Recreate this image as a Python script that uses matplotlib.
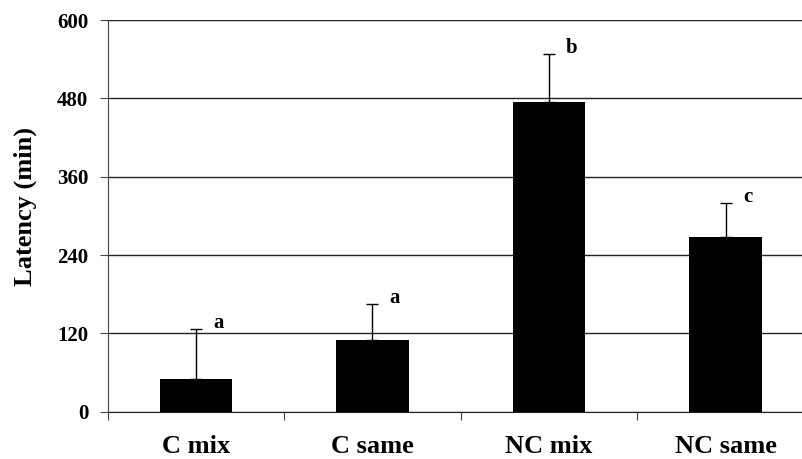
import matplotlib
matplotlib.use("Agg")
import matplotlib.pyplot as plt
import numpy as np

# values
groups = ["C mix", "C same", "NC mix", "NC same"]
latency = [50, 110, 474, 267]
sem = [76, 55, 74, 52]
letters = ["a", "a", "b", "c"]
yticks = [0, 120, 240, 360, 480, 600]

plt.rcParams["font.family"] = ["Liberation Serif", "DejaVu Serif"]
plt.rcParams["font.weight"] = "bold"

fig = plt.figure(figsize=(8.02, 4.59), dpi=100)
ax = fig.add_axes([0.1343, 0.103, 0.8804, 0.8534])

x = np.arange(len(groups))
ax.bar(x, latency, width=0.41, color="black", zorder=3)
ax.errorbar(x, latency, yerr=[np.zeros(len(sem)), sem], fmt="none",
            ecolor="black", elinewidth=1, capsize=4, capthick=1, zorder=4)

# significance letters, to the right of each error cap
for xi, m, e, lab in zip(x, latency, sem, letters):
    ax.annotate(lab, (xi, m + e), xytext=(16, 1), textcoords="offset points",
                ha="center", va="baseline", fontsize=15, fontweight="bold")

ax.set_xlim(-0.5, len(groups) - 0.5)
ax.set_ylim(0, 600)
ax.set_yticks(yticks)
ax.set_yticklabels([str(t) for t in yticks], fontsize=15, fontweight="bold")
ax.yaxis.grid(True, color="#222222", linewidth=1)
ax.set_axisbelow(True)

# tick marks on category boundaries, labels at centres
ax.set_xticks(np.arange(-0.5, len(groups), 1.0))
ax.set_xticklabels([])
ax.set_xticks(x, minor=True)
ax.set_xticklabels(groups, minor=True, fontsize=19, fontweight="bold")
ax.tick_params(axis="x", which="minor", length=0, pad=17)
ax.tick_params(axis="x", which="major", length=6, color="#444444")
ax.tick_params(axis="y", length=6, pad=8, color="#444444")

ax.set_ylabel("Latency (min)", fontsize=19, fontweight="bold")
ax.yaxis.set_label_coords(-0.100, 0.524)

for s in ["top", "right"]:
    ax.spines[s].set_visible(False)
ax.spines["left"].set_color("#444444")
ax.spines["bottom"].set_color("#222222")

fig.savefig("out.png", dpi=100)
